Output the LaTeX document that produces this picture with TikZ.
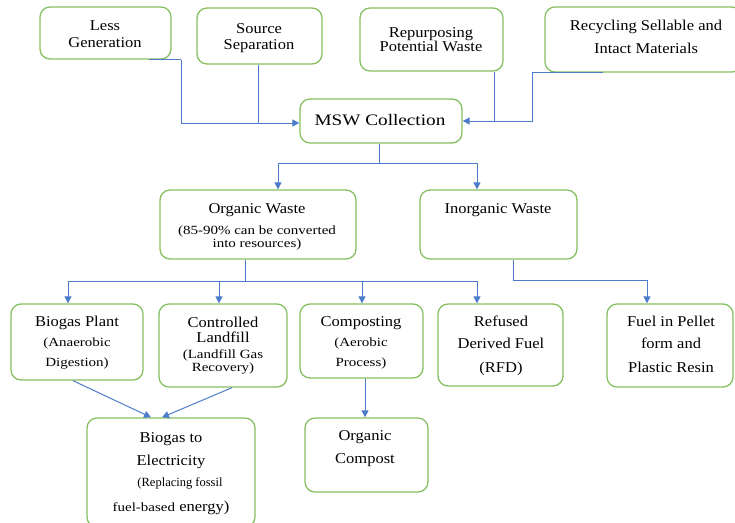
\documentclass[tikz,border=0pt]{standalone}
\usepackage{fontspec}
\setmainfont{Liberation Serif}
\newfontfamily\ttlfont[FakeStretch=1.1]{Liberation Serif}
\newfontfamily\subfont[FakeStretch=1.2]{Liberation Serif}
\newfontfamily\mswfont[FakeStretch=1.2]{Liberation Serif}
\usetikzlibrary{arrows.meta}
\definecolor{boxgreen}{RGB}{132,192,96}
\definecolor{lineblue}{RGB}{78,124,204}
\tikzset{
  box/.style={draw=boxgreen, line width=1.3pt, rounded corners=10pt, inner sep=0pt},
  tl/.style={inner sep=0pt, text height=10pt, text depth=0pt, font=\ttlfont\fontsize{15}{18}\selectfont},
  sl/.style={inner sep=0pt, text height=8.2pt, text depth=0pt, font=\subfont\fontsize{12.5}{15}\selectfont},
  conn/.style={draw=lineblue, line width=1pt},
  arr/.style={conn, -{Triangle[length=7pt,width=7pt]}},
}
\begin{document}
\begin{tikzpicture}[x=1pt,y=-1pt]
\useasboundingbox (0,0) rectangle (735,522);
% boxes
\node[box, minimum width=131pt, minimum height=52pt] (lessgen) at (105.5,33) {};
\node[box, minimum width=125pt, minimum height=56pt] (srcsep) at (259.5,36) {};
\node[box, minimum width=143pt, minimum height=63pt] (repurp) at (431.5,39.5) {};
\node[box, minimum width=197pt, minimum height=65pt] (recyc) at (643.5,39.5) {};
\node[box, minimum width=162pt, minimum height=44pt] (msw) at (381,121) {};
\node[box, minimum width=196pt, minimum height=69pt] (organic) at (258,224.5) {};
\node[box, minimum width=157pt, minimum height=69pt] (inorganic) at (498.5,224.5) {};
\node[box, minimum width=132pt, minimum height=76pt] (bplant) at (77,342) {};
\node[box, minimum width=128pt, minimum height=83pt] (landfill) at (223,345.5) {};
\node[box, minimum width=123pt, minimum height=74pt] (composting) at (361.5,341) {};
\node[box, minimum width=125pt, minimum height=82pt] (rfd) at (500.5,345) {};
\node[box, minimum width=126pt, minimum height=83pt] (pellet) at (670,345.5) {};
\node[box, minimum width=168pt, minimum height=109pt] (elec) at (171,472.5) {};
\node[box, minimum width=123pt, minimum height=74pt] (compost) at (366.5,455) {};
% texts
\node[tl] (lg1) at (105,25) {Less};
\node[tl] (lg2) at (105,42) {Generation};
\node[tl] (ss1) at (259,28) {Source};
\node[tl] (ss2) at (259,44) {Separation};
\node[tl] (rp1) at (431,32) {Repurposing};
\node[tl] (rp2) at (431,46) {Potential Waste};
\node[tl] (rct1) at (646,25) {Recycling Sellable and};
\node[tl] (rct2) at (646,48) {Intact Materials};
\node[tl, font=\mswfont\fontsize{16}{19}\selectfont] (mswt) at (380,120) {MSW Collection};
\node[tl] (ow1) at (257,208) {Organic Waste};
\node[sl] (ow2) at (257,230) {(85-90\% can be converted};
\node[sl] (ow3) at (257,243) {into resources)};
\node[tl] (iw1) at (498,208) {Inorganic Waste};
\node[tl] (bp1) at (77,321) {Biogas Plant};
\node[sl] (bp2) at (77,342) {(Anaerobic};
\node[sl] (bp3) at (77,362) {Digestion)};
\node[tl] (cl1) at (223,322) {Controlled};
\node[tl] (cl2) at (223,337) {Landfill};
\node[sl] (cl3) at (223,354) {(Landfill Gas};
\node[sl] (cl4) at (223,367) {Recovery)};
\node[tl] (cp1) at (361,321) {Composting};
\node[sl] (cp2) at (361,342) {(Aerobic};
\node[sl] (cp3) at (361,362) {Process)};
\node[tl] (rf1) at (501,321) {Refused};
\node[tl] (rf2) at (501,343) {Derived Fuel};
\node[tl] (rf3) at (501,367) {(RFD)};
\node[tl] (fp1) at (671,321) {Fuel in Pellet};
\node[tl] (fp2) at (671,343) {form and};
\node[tl] (fp3) at (671,367) {Plastic Resin};
\node[tl] (be1) at (171,437) {Biogas to};
\node[tl] (be2) at (171,460) {Electricity};
\node[sl, font=\rmfamily\fontsize{12.5}{15}\selectfont] (be3) at (180,482) {(Replacing fossil};
\node[tl] (be4) at (171,506) {{\subfont\fontsize{12.5}{15}\selectfont fuel-based} energy)};
\node[tl] (oc1) at (365,435) {Organic};
\node[tl] (oc2) at (365,458) {Compost};
% connectors top
\coordinate (inL) at ([yshift=-2pt]msw.west);
\coordinate (lgA) at ([xshift=43.5pt]lessgen.south);
\coordinate (lgB) at ([xshift=75.5pt]lessgen.south);
\draw[conn] (lgA) -- (lgB);
\draw[arr] (lgB) |- (inL);
\coordinate (ss) at ([xshift=-1.5pt]srcsep.south);
\draw[conn] (ss) -- (ss |- inL);
\coordinate (rp) at ([xshift=62.5pt]repurp.south);
\draw[conn] (rp) -- (rp |- msw.east);
\coordinate (rcA) at ([xshift=-40.5pt]recyc.south);
\coordinate (rcB) at ([xshift=-111.5pt]recyc.south);
\draw[arr] (rcA) -- (rcB) |- (msw.east);
% msw to organic / inorganic
\coordinate (ms) at ([xshift=-2pt]msw.south);
\coordinate (j1) at ([yshift=-20pt]ms);
\draw[conn] (ms) -- (j1);
\draw[arr] (j1) -| ([xshift=20pt]organic.north);
\draw[arr] (j1) -| ([xshift=-21.5pt]inorganic.north);
% organic to four
\coordinate (os) at ([xshift=-13pt]organic.south);
\coordinate (j2) at ([yshift=-22pt]os);
\draw[conn] (os) -- (j2);
\draw[arr] (j2) -| ([xshift=-9pt]bplant.north);
\draw[arr] (j2) -| ([xshift=-4pt]landfill.north);
\draw[arr] (j2) -| ([xshift=0.5pt]composting.north);
\draw[arr] (j2) -| ([xshift=-23.5pt]rfd.north);
% inorganic to pellet
\coordinate (is) at ([xshift=14.5pt]inorganic.south);
\coordinate (j3) at ([yshift=-21pt]is);
\draw[arr] (is) -- (j3) -| ([xshift=-23pt]pellet.north);
% bottom
\draw[arr] ([xshift=-4pt]bplant.south) -- ([xshift=-20pt]elec.north);
\draw[arr] ([xshift=9pt]landfill.south) -- ([xshift=-9pt]elec.north);
\coordinate (cs) at ([xshift=3.5pt]composting.south);
\draw[arr] (cs) -- (cs |- compost.north);
\end{tikzpicture}
\end{document}
